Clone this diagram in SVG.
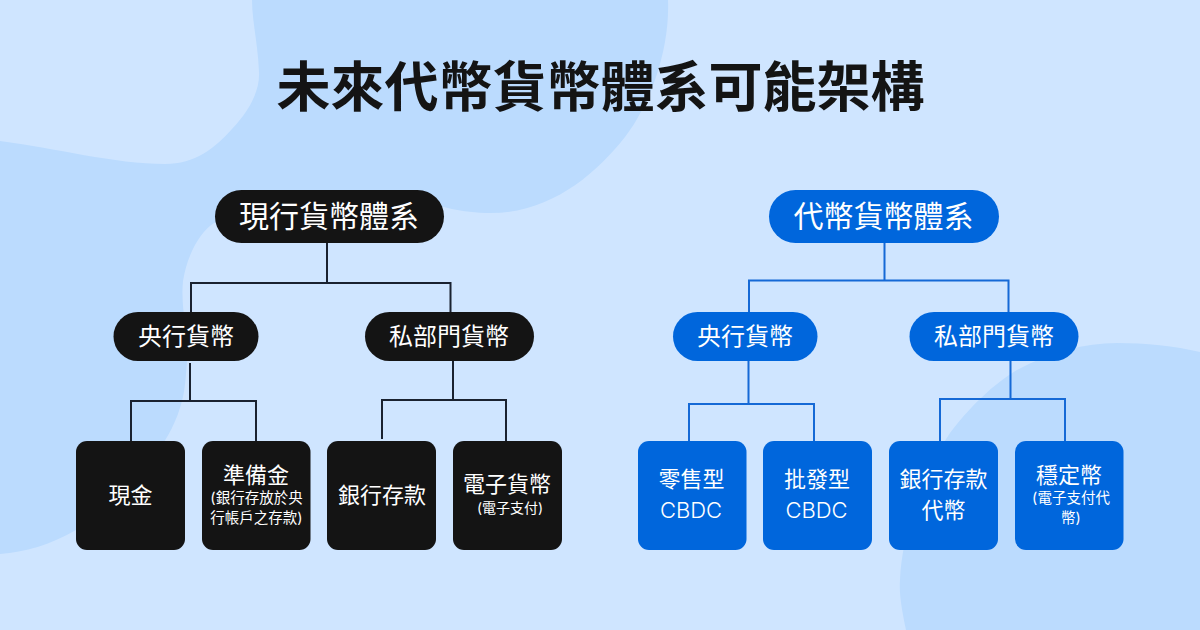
<svg xmlns="http://www.w3.org/2000/svg" width="1200" height="630" viewBox="0 0 1200 630">
<style>
text{font-family:"Inter","Noto Sans CJK TC","Noto Sans CJK SC",sans-serif;text-anchor:middle;fill:#fff;font-weight:400}
.title{font-size:54px;font-weight:700;fill:#141414}
.r{font-size:30px}.m{font-size:24px}.l{font-size:22px}.s{font-size:14.5px}.t{font-size:14px}.c{font-size:22px;font-weight:300}
.k{fill:#141414}.b{fill:#0066dc}
.ck{fill:none;stroke:#1a2230;stroke-width:2}
.cb{fill:none;stroke:#1569d6;stroke-width:2}
</style>
<rect width="1200" height="630" fill="#cfe5ff"/>
<path fill="#bbdbfe" d="M252 0H668C670 50 650 105 625 137C595 175 550 213 491 213C460 213 440 206 424 201L300 190L214 223C200 232 187 255 183 281C180 310 190 340 187 362C185 385 185 395 178 414C170 435 160 450 147 462C125 485 105 515 76 530C50 545 25 552 0 554V141C55 148 115 164 165 164C195 164 215 148 232 129C250 110 260 90 259 72C258 45 252 20 252 0Z"/>
<path fill="#bbdbfe" d="M906 630C902 610 899 595 900 580C902 530 925 470 950 433C975 400 1000 380 1017 370C1050 352 1085 343 1117 343C1145 343 1175 346 1200 352V630Z"/>
<text class="title" x="600.5" y="107">未來代幣貨幣體系可能架構</text>
<g id="connectors">
<path class="ck" d="M327 243V283M191 312V283H450.500V312M190 363V401M131 441V401H256V441M453 361V400M382 439V400H506V441"/>
<path class="cb" d="M884.500 243V280.500M749 312V280.500H1008.500V312M748.500 361V404M689 441V404H814V441M1010.500 361V399M940 441V399H1065V441"/>
</g>
<g id="n-current"><rect class="k" x="215" y="190" width="229" height="53" rx="26.500"/><text class="r" x="329" y="227">現行貨幣體系</text></g>
<g id="n-cb1"><rect class="k" x="113.500" y="312" width="145" height="49" rx="24.500"/><text class="m" x="186" y="345">央行貨幣</text></g>
<g id="n-pv1"><rect class="k" x="365" y="312" width="169" height="49" rx="24.500"/><text class="m" x="449" y="345">私部門貨幣</text></g>
<g id="n-cash"><rect class="k" x="76" y="441" width="109" height="109" rx="11"/><text class="l" x="130.500" y="503">現金</text></g>
<g id="n-reserve"><rect class="k" x="202" y="441" width="108.500" height="109" rx="11"/><text class="l" x="256" y="483">準備金</text><text class="s" x="256.500" y="503">(銀行存放於央</text><text class="s" x="256.500" y="523">行帳戶之存款)</text></g>
<g id="n-deposit"><rect class="k" x="327" y="441" width="109" height="109" rx="11"/><text class="l" x="382" y="503">銀行存款</text></g>
<g id="n-emoney"><rect class="k" x="453" y="441" width="109" height="109" rx="11"/><text class="l" x="507" y="492">電子貨幣</text><text class="t" x="510" y="513">(電子支付)</text></g>
<g id="n-token"><rect class="b" x="769" y="190" width="230" height="53" rx="26.500"/><text class="r" x="883.500" y="227">代幣貨幣體系</text></g>
<g id="n-cb2"><rect class="b" x="673" y="312" width="144.500" height="49" rx="24.500"/><text class="m" x="745" y="345">央行貨幣</text></g>
<g id="n-pv2"><rect class="b" x="909.500" y="312" width="169" height="49" rx="24.500"/><text class="m" x="994" y="345">私部門貨幣</text></g>
<g id="n-retail"><rect class="b" x="638" y="441" width="108.500" height="109" rx="11"/><text class="l" x="691.500" y="487">零售型</text><text class="c" x="691" y="518">CBDC</text></g>
<g id="n-whole"><rect class="b" x="763" y="441" width="109" height="109" rx="11"/><text class="l" x="817" y="487">批發型</text><text class="c" x="816.500" y="518">CBDC</text></g>
<g id="n-dtoken"><rect class="b" x="889" y="441" width="109" height="109" rx="11"/><text class="l" x="943.500" y="487">銀行存款</text><text class="l" x="943.500" y="518">代幣</text></g>
<g id="n-stable"><rect class="b" x="1015" y="441" width="108.500" height="109" rx="11"/><text class="l" x="1069" y="483">穩定幣</text><text class="s" x="1071" y="503">(電子支付代</text><text class="s" x="1071" y="523">幣)</text></g>
</svg>
